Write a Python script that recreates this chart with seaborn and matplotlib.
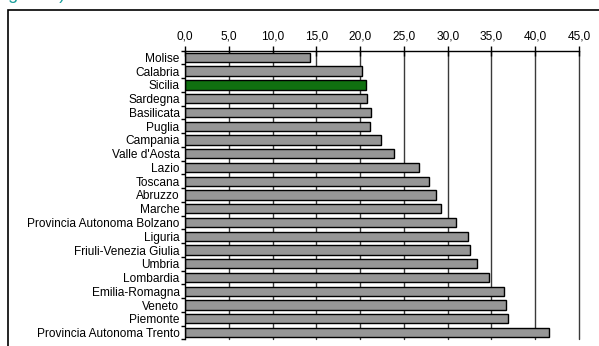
import matplotlib
matplotlib.use("Agg")
import matplotlib.pyplot as plt
import matplotlib.patches as mpatches
import seaborn as sns
import pandas as pd
import numpy as np
from matplotlib.ticker import FuncFormatter, MultipleLocator

regions = [
    "Molise", "Calabria", "Sicilia", "Sardegna", "Basilicata", "Puglia",
    "Campania", "Valle d'Aosta", "Lazio", "Toscana", "Abruzzo", "Marche",
    "Provincia Autonoma Bolzano", "Liguria", "Friuli-Venezia Giulia",
    "Umbria", "Lombardia", "Emilia-Romagna", "Veneto", "Piemonte",
    "Provincia Autonoma Trento",
]
values = [
    14.3, 20.2, 20.7, 20.8, 21.2, 21.1,
    22.4, 23.9, 26.7, 27.9, 28.7, 29.2,
    31.0, 32.3, 32.6, 33.3, 34.7, 36.4, 36.7, 36.9,
    41.6,
]
highlight = "Sicilia"

sns.set_theme(style="white")
plt.rcParams["font.family"] = ["Liberation Sans", "DejaVu Sans"]

df = pd.DataFrame({"regione": regions, "valore": values})
palette = {r: ("#008000" if r == highlight else "#969696") for r in regions}

fig = plt.figure(figsize=(5.99, 3.46), dpi=100)
ax = fig.add_axes([0.309, 0.019, 0.6576, 0.835])

# vertical grid behind the bars
ax.set_axisbelow(True)
for v in np.arange(5, 46, 5):
    ax.axvline(v, color="#3a3a3a", lw=1.0, zorder=0, clip_on=False)

sns.barplot(data=df, y="regione", x="valore", hue="regione", palette=palette,
            order=regions, orient="h", width=0.68, edgecolor="black",
            linewidth=1.0, legend=False, ax=ax)

ax.set_xlim(0, 45)
ax.set_ylim(len(regions) - 0.5, -0.5)
ax.set_xlabel("")
ax.set_ylabel("")

ax.xaxis.tick_top()
ax.xaxis.set_major_locator(MultipleLocator(5))
ax.xaxis.set_major_formatter(FuncFormatter(lambda v, p: f"{v:.1f}".replace(".", ",")))
ax.tick_params(axis="x", which="major", direction="inout", length=7, width=1,
               color="black", labelsize=8.6, pad=2, labelcolor="black")

ax.set_yticks(np.arange(len(regions)))
ax.set_yticks(np.arange(len(regions) + 1) - 0.5, minor=True)
ax.tick_params(axis="y", which="major", length=0, labelsize=8.6, pad=4,
               labelcolor="black")
ax.tick_params(axis="y", which="minor", direction="out", length=3, width=1,
               color="black", left=True)

for side in ("right", "bottom"):
    ax.spines[side].set_visible(False)
for side in ("left", "top"):
    ax.spines[side].set_visible(True)
    ax.spines[side].set_color("black")
    ax.spines[side].set_linewidth(1.0)

# chart frame, running past the right and bottom edges
frame = mpatches.Rectangle((8 / 599, -0.1), 1.2, 1 - 10 / 346 + 0.1,
                           transform=fig.transFigure, fill=False,
                           edgecolor="black", lw=1.2)
fig.patches.append(frame)

# caption sitting above the frame, its upper part running off the top
fig.text(-0.012, 1 + 1 / 346, "Figura 1)", color="#1a9e9a", fontsize=13,
         ha="left", va="baseline")

fig.savefig("out.png", dpi=100)
